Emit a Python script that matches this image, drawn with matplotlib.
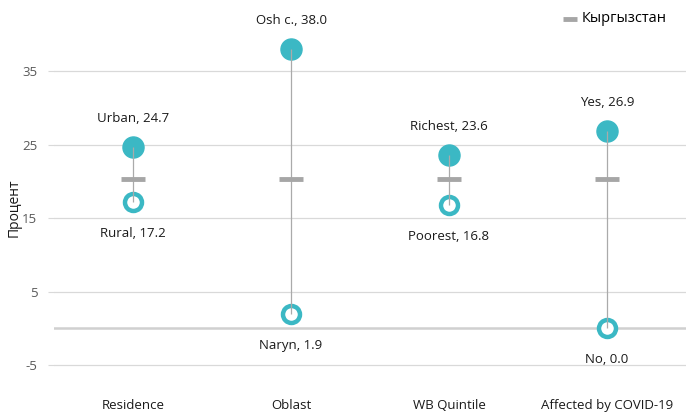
import numpy as np
import matplotlib.pyplot as plt

plt.rcParams['font.family'] = ['Open Sans', 'DejaVu Sans']
plt.rcParams['axes.unicode_minus'] = False

categories = ["Residence", "Oblast", "WB Quintile", "Affected by COVID-19"]
high_names = ["Urban", "Osh c.", "Richest", "Yes"]
high_vals = [24.7, 38.0, 23.6, 26.9]
low_names = ["Rural", "Naryn", "Poorest", "No"]
low_vals = [17.2, 1.9, 16.8, 0.0]
national = [20.4, 20.4, 20.4, 20.4]

teal = '#3BB8C4'
x = np.arange(len(categories))

fig = plt.figure(figsize=(6.97, 4.13), dpi=100)
ax = fig.add_axes([54 / 697, 1 - 396 / 413, 632 / 697, (396 - 20) / 413])

for y in [-5, 5, 15, 25, 35]:
    ax.axhline(y, color='#D9D9D9', lw=0.9, zorder=0)
ax.axhline(0, color='#D0D0D0', lw=1.8, zorder=0)

ax.scatter(x, high_vals, s=230, color=teal, zorder=2)
ax.scatter(x, low_vals, s=150, facecolor='white', edgecolor=teal, linewidth=3.2, zorder=2)
ax.vlines(x, low_vals, high_vals, color='#AAAAAA', lw=0.9, zorder=3)
ax.scatter(x, national, marker='_', s=300, color='#A6A6A6', linewidth=3.5, zorder=4,
           label='Кыргызстан')

for xi, n, v in zip(x, high_names, high_vals):
    ax.annotate(f"{n}, {v:.1f}", (xi, v), xytext=(0, 16), textcoords='offset points',
                ha='center', va='bottom', fontsize=9.5, color='#1a1a1a')
for xi, n, v in zip(x, low_names, low_vals):
    ax.annotate(f"{n}, {v:.1f}", (xi, v), xytext=(0, -18), textcoords='offset points',
                ha='center', va='top', fontsize=9.5, color='#1a1a1a')

ax.set_xlim(-0.5, 3.5)
ax.set_ylim(-9.2, 42)
ax.set_xticks(x)
ax.set_xticklabels(categories, fontsize=9.5, color='#1a1a1a')
ax.set_yticks([-5, 5, 15, 25, 35])
ax.tick_params(axis='y', labelsize=9.5, labelcolor='#595959', color='#D9D9D9', length=4, pad=8)
ax.tick_params(axis='x', length=0, pad=2)
for s in ax.spines.values():
    s.set_visible(False)
ax.set_ylabel('Процент', fontsize=10, color='#1a1a1a', labelpad=0)

fig.legend(loc='center left', bbox_to_anchor=(563 / 697, 1 - 19 / 413), frameon=False,
           fontsize=10.5, handlelength=0.9, handletextpad=0.4, markerscale=0.6,
           borderaxespad=0, borderpad=0)

fig.savefig('out.png', dpi=100)
